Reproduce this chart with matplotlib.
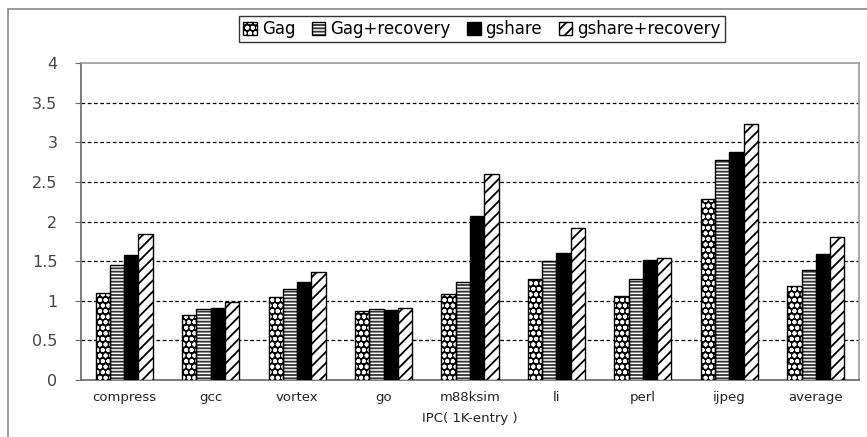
import numpy as np
import matplotlib
matplotlib.use("Agg")
from matplotlib import pyplot as plt
from matplotlib.patches import Rectangle, Patch
from matplotlib.legend_handler import HandlerTuple

benchmarks = ["compress", "gcc", "vortex", "go", "m88ksim", "li", "perl", "ijpeg", "average"]
gag = [1.10, 0.82, 1.05, 0.87, 1.08, 1.28, 1.06, 2.29, 1.19]
gag_recovery = [1.45, 0.90, 1.15, 0.90, 1.24, 1.50, 1.27, 2.78, 1.39]
gshare = [1.58, 0.91, 1.24, 0.88, 2.07, 1.60, 1.51, 2.88, 1.59]
gshare_recovery = [1.84, 0.98, 1.36, 0.91, 2.60, 1.92, 1.54, 3.23, 1.80]
series_names = ["Gag", "Gag+recovery", "gshare", "gshare+recovery"]
y_ticks = [0, 0.5, 1, 1.5, 2, 2.5, 3, 3.5, 4]
y_tick_labels = ["0", "0.5", "1", "1.5", "2", "2.5", "3", "3.5", "4"]

plt.rcParams["font.family"] = ["DejaVu Sans"]
plt.rcParams["hatch.linewidth"] = 1.3

fig = plt.figure(figsize=(8.67, 4.37), dpi=100)
ax = fig.add_axes([81 / 867, 1 - 380 / 437, 778 / 867, 317 / 437])

# outer frame of the original picture
fig.patches.append(Rectangle((8 / 867, -0.1), 1.2, 1.1 - 9 / 437, transform=fig.transFigure,
                             fill=False, edgecolor="#888888", linewidth=1.2))

x = np.arange(len(benchmarks))
w = 0.165
offsets = [-1.5 * w, -0.5 * w, 0.5 * w, 1.5 * w]

# Gag: white dots on black
ax.bar(x + offsets[0], gag, w, color="black", edgecolor="white", hatch="ooo", linewidth=0, zorder=3)
ax.bar(x + offsets[0], gag, w, fill=False, edgecolor="black", linewidth=1, zorder=4)
# Gag+recovery: horizontal lines
ax.bar(x + offsets[1], gag_recovery, w, color="white", edgecolor="#333333", hatch="-----", linewidth=0, zorder=3)
ax.bar(x + offsets[1], gag_recovery, w, fill=False, edgecolor="black", linewidth=1, zorder=4)
# gshare: solid black
ax.bar(x + offsets[2], gshare, w, color="black", edgecolor="black", linewidth=1, zorder=3)
# gshare+recovery: diagonal
ax.bar(x + offsets[3], gshare_recovery, w, color="white", edgecolor="black", hatch="///", linewidth=1, zorder=3)

ax.set_ylim(0, 4)
ax.set_xlim(-0.5, len(benchmarks) - 0.5)
ax.set_yticks(y_ticks)
ax.set_yticklabels(y_tick_labels, fontsize=11.5, color="#444444")
ax.set_xticks(x)
ax.set_xticklabels(benchmarks, fontsize=9.5, color="#222222")
ax.tick_params(axis="x", length=0, pad=8)
ax.tick_params(axis="y", length=4, direction="out", pad=13, color="#666666")
ax.set_xlabel("IPC( 1K-entry )", fontsize=9.5, labelpad=6, color="#222222")

for yv in y_ticks[1:-1]:
    ax.axhline(yv, color="black", linestyle=(0, (3, 2)), linewidth=0.9, zorder=1)

for side in ["top", "right"]:
    ax.spines[side].set_color("#999999")
    ax.spines[side].set_linewidth(1.2)
for side in ["left", "bottom"]:
    ax.spines[side].set_color("#666666")
    ax.spines[side].set_linewidth(1.2)

outline = dict(fill=False, edgecolor="black", linewidth=1)
handles = [
    (Patch(facecolor="black", edgecolor="white", hatch="ooo", linewidth=0), Patch(**outline)),
    (Patch(facecolor="white", edgecolor="#333333", hatch="-----", linewidth=0), Patch(**outline)),
    Patch(facecolor="black", edgecolor="black"),
    Patch(facecolor="white", edgecolor="black", hatch="///"),
]
leg = fig.legend(handles, series_names, loc="center", bbox_to_anchor=(482 / 867, 1 - 29 / 437),
                 ncol=4, frameon=True, fancybox=False, fontsize=12, handlelength=0.8, handleheight=0.8,
                 handletextpad=0.3, columnspacing=1.0, borderpad=0.25,
                 handler_map={tuple: HandlerTuple(ndivide=1, pad=0)})
leg.get_frame().set_edgecolor("black")
leg.get_frame().set_linewidth(1.0)

fig.savefig("out.png", dpi=100)
